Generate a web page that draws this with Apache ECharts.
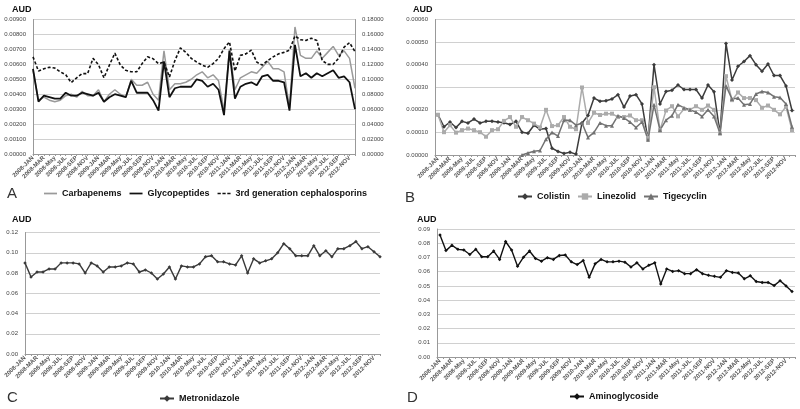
<!DOCTYPE html>
<html><head><meta charset="utf-8">
<script src="https://cdn.jsdelivr.net/npm/echarts@6/dist/echarts.min.js"></script>
<style>html,body{margin:0;padding:0;background:#fff}#c{width:800px;height:409px}</style>
</head><body><div id="c"></div>
<script>
// ---- data ----
const years = [2008, 2009, 2010, 2011, 2012];
const months = ['JAN','FEB','MAR','APR','May','JUN','JUL','AUG','SEP','OCT','NOV','DEC'];
const categories = [];
years.forEach(y => months.forEach(m => categories.push(y + '-' + m)));

const carbapenems = [0.0056,0.0036,0.0038,0.0036,0.0035,0.0036,0.0039,0.0040,0.0038,0.0042,
  0.0039,0.0039,0.0043,0.0035,0.0040,0.0043,0.0040,0.0038,0.0050,0.0046,
  0.0046,0.0048,0.0040,0.0036,0.0069,0.0043,0.0047,0.0047,0.0048,0.0050,
  0.0053,0.0055,0.0051,0.0053,0.0049,0.0029,0.0070,0.0043,0.0051,0.0053,
  0.0055,0.0054,0.0058,0.0062,0.0057,0.0057,0.0055,0.0031,0.0085,0.0066,
  0.0064,0.0064,0.0069,0.0064,0.0068,0.0072,0.0066,0.0069,0.0064,0.0044];
const glycopeptides = [0.0057,0.0035,0.0039,0.0038,0.0037,0.0037,0.0041,0.0039,0.0039,0.0041,
  0.0040,0.0039,0.0041,0.0035,0.0038,0.0040,0.0039,0.0038,0.0049,0.0041,
  0.0041,0.0041,0.0036,0.0029,0.0062,0.0038,0.0044,0.0045,0.0045,0.0045,
  0.0050,0.0049,0.0045,0.0047,0.0043,0.0026,0.0069,0.0037,0.0045,0.0047,
  0.0048,0.0046,0.0052,0.0053,0.0049,0.0049,0.0048,0.0029,0.0073,0.0052,
  0.0054,0.0051,0.0054,0.0052,0.0054,0.0056,0.0051,0.0052,0.0048,0.0030];
const cephalosporins3 = [0.130,0.111,0.114,0.116,0.115,0.110,0.106,0.0955,0.102,0.1075,
  0.1075,0.128,0.1195,0.102,0.119,0.135,0.119,0.112,0.110,0.110,
  0.121,0.130,0.1275,0.121,0.123,0.103,0.125,0.142,0.136,0.128,
  0.123,0.119,0.116,0.121,0.128,0.141,0.150,0.111,0.132,0.134,
  0.139,0.123,0.119,0.125,0.130,0.134,0.136,0.139,0.158,0.153,
  0.152,0.155,0.152,0.125,0.120,0.120,0.128,0.143,0.149,0.137];

const colistin = [0.000178,0.000125,0.000146,0.000122,0.000149,0.000142,0.000159,0.000142,0.000149,0.000149,
  0.000146,0.000143,0.000135,0.000149,0.000101,0.000096,0.000132,0.000114,0.000117,0.00003,
  0.000016,0.000007,0.000012,0.000004,0.000142,0.000175,0.000252,0.000238,0.00024,0.000248,
  0.000267,0.000212,0.000261,0.000267,0.000226,0.000067,0.0004,0.000226,0.000281,0.000287,
  0.00031,0.00029,0.00029,0.00029,0.000252,0.00031,0.00028,0.000096,0.000494,0.000332,
  0.000393,0.000414,0.00044,0.0004,0.000371,0.000403,0.000352,0.000352,0.000306,0.000197];
const linezolid = [0.000178,0.000101,0.000132,0.000099,0.00011,0.000117,0.00011,0.000101,0.000081,0.00011,
  0.000114,0.000151,0.000168,0.000125,0.000168,0.000154,0.000139,0.000122,0.0002,0.000128,
  0.000132,0.000168,0.000125,0.000114,0.000299,0.000142,0.000187,0.000177,0.000183,0.000183,
  0.000168,0.000168,0.000175,0.000154,0.000154,0.000075,0.0003,0.00011,0.000197,0.000216,
  0.000171,0.000204,0.0002,0.000216,0.0002,0.000219,0.0002,0.000096,0.000349,0.000243,
  0.000277,0.000252,0.000252,0.000243,0.000209,0.000219,0.0002,0.00018,0.000214,0.00011];
const tigecyclin = [null,null,null,null,null,null,null,null,null,null,
  null,null,null,null,0,0.000009,0.000017,0.00002,0.00007,0.0001,
  0.000084,0.000154,0.000154,0.000132,0.000142,0.000078,0.0001,0.000142,0.00013,0.00013,
  0.000174,0.000164,0.000146,0.000122,0.000146,0.000067,0.000222,0.00011,0.000154,0.000174,
  0.000223,0.000209,0.0002,0.00019,0.000171,0.0002,0.000171,0.000096,0.000306,0.000248,
  0.000252,0.000222,0.000226,0.00027,0.000281,0.000277,0.000258,0.000255,0.000226,0.000125];

const metronidazole = [0.090,0.076,0.081,0.081,0.084,0.084,0.090,0.090,0.090,0.089,
  0.080,0.090,0.087,0.081,0.086,0.086,0.087,0.090,0.089,0.081,
  0.083,0.080,0.074,0.079,0.086,0.074,0.087,0.086,0.086,0.089,
  0.096,0.097,0.091,0.091,0.089,0.088,0.097,0.080,0.094,0.090,
  0.092,0.094,0.100,0.109,0.104,0.097,0.097,0.097,0.107,0.097,
  0.102,0.096,0.104,0.104,0.107,0.111,0.104,0.106,0.101,0.096];
const aminoglycoside = [0.0857,0.0748,0.0786,0.0757,0.0752,0.0721,0.0757,0.0705,0.0705,0.0745,
  0.0686,0.0812,0.0752,0.0638,0.0702,0.0745,0.0693,0.0674,0.0698,0.0686,
  0.0714,0.0717,0.0669,0.0650,0.0678,0.0560,0.0655,0.0686,0.0669,0.0669,
  0.0674,0.0667,0.0633,0.0662,0.0619,0.0645,0.0662,0.0514,0.0619,0.0602,
  0.0607,0.0586,0.0586,0.0614,0.0586,0.0574,0.0567,0.0560,0.0607,0.0595,
  0.0590,0.0550,0.0571,0.0531,0.0524,0.0524,0.0502,0.0536,0.0500,0.0460];

const panelLetters = ['A','B','C','D'];
const yUnit = 'AUD';

// ---- chart ----
const FONT = '"Liberation Sans", Arial, sans-serif';
const chart = echarts.init(document.getElementById('c'), null, {renderer:'canvas', width:800, height:409});

function xAx(gi, bg) {
  return {
    type:'category', gridIndex:gi, data:categories, boundaryGap:bg,
    axisLine:{lineStyle:{color:'#999', width:1}},
    axisTick:{show:true, interval:0, length:2, lineStyle:{color:'#999'}},
    axisLabel:{interval:1, rotate:45, fontSize:6, color:'#555', fontFamily:FONT, fontWeight:'bold', margin:3},
    splitLine:{show:false}
  };
}
function yAx(gi, max, interval, dec, pos, split) {
  return {
    type:'value', gridIndex:gi, min:0, max:max, interval:interval, position:pos||'left',
    axisLine:{show:true, lineStyle:{color:'#999'}},
    axisTick:{show:false},
    axisLabel:{fontSize:6, color:'#444', fontFamily:FONT, margin:7, formatter:v => v.toFixed(dec)},
    splitLine:{show:split!==false, lineStyle:{color:'#d0d0d0', width:1}}
  };
}
const legText = {fontSize:9, fontWeight:'bold', color:'#111', fontFamily:FONT};
const solidIcon = 'path://M0,0L12,0L12,1.6L0,1.6Z';
const dashIcon = 'path://M0,0L3,0L3,1.6L0,1.6Z M4.5,0L7.5,0L7.5,1.6L4.5,1.6Z M9,0L12,0L12,1.6L9,1.6Z';

const option = {
  animation:false,
  backgroundColor:'#fff',
  title:[
    {text:yUnit, left:7, top:0, textStyle:{fontSize:9, fontWeight:'bold', color:'#111', fontFamily:FONT}},
    {text:yUnit, left:408, top:0, textStyle:{fontSize:9, fontWeight:'bold', color:'#111', fontFamily:FONT}},
    {text:yUnit, left:7, top:210, textStyle:{fontSize:9, fontWeight:'bold', color:'#111', fontFamily:FONT}},
    {text:yUnit, left:412, top:210, textStyle:{fontSize:9, fontWeight:'bold', color:'#111', fontFamily:FONT}},
    {text:panelLetters[0], left:2, top:181, textStyle:{fontSize:15, fontWeight:'normal', color:'#333', fontFamily:FONT}},
    {text:panelLetters[1], left:400, top:185, textStyle:{fontSize:15, fontWeight:'normal', color:'#333', fontFamily:FONT}},
    {text:panelLetters[2], left:2, top:385, textStyle:{fontSize:15, fontWeight:'normal', color:'#333', fontFamily:FONT}},
    {text:panelLetters[3], left:402, top:385, textStyle:{fontSize:15, fontWeight:'normal', color:'#333', fontFamily:FONT}}
  ],
  grid:[
    {left:33, top:19.5, width:322, height:134.5},
    {left:435, top:19.5, width:360, height:135.5},
    {left:25, top:232.5, width:355, height:121.5},
    {left:437, top:229, width:358, height:128}
  ],
  xAxis:[xAx(0,false), xAx(1,true), xAx(2,false), xAx(3,true)],
  yAxis:[
    yAx(0, 0.009, 0.001, 5),
    yAx(0, 0.18, 0.02, 5, 'right', false),
    yAx(1, 0.0006, 0.0001, 5),
    yAx(2, 0.12, 0.02, 2),
    yAx(3, 0.09, 0.01, 2)
  ],
  legend:[
    {data:[{name:'Carbapenems', icon:solidIcon}, {name:'Glycopeptides', icon:solidIcon}, {name:'3rd generation cephalosporins', icon:dashIcon}],
      left:39, top:184, itemWidth:13, itemHeight:2, itemGap:8, textStyle:legText},
    {data:['Colistin','Linezolid','Tigecyclin'], left:512, top:187, itemWidth:14, itemHeight:8, itemGap:7, textStyle:legText},
    {data:['Metronidazole'], left:154, top:389, itemWidth:14, itemHeight:8, textStyle:legText},
    {data:['Aminoglycoside'], left:564, top:387, itemWidth:14, itemHeight:8, textStyle:legText}
  ],
  series:[
    {name:'Carbapenems', type:'line', xAxisIndex:0, yAxisIndex:0, data:carbapenems, symbol:'none',
      lineStyle:{color:'#9a9a9a', width:1.5}, itemStyle:{color:'#9a9a9a'}},
    {name:'Glycopeptides', type:'line', xAxisIndex:0, yAxisIndex:0, data:glycopeptides, symbol:'none',
      lineStyle:{color:'#111', width:1.8}, itemStyle:{color:'#111'}},
    {name:'3rd generation cephalosporins', type:'line', xAxisIndex:0, yAxisIndex:1, data:cephalosporins3, symbol:'none',
      lineStyle:{color:'#111', width:1.6, type:[3,2]}, itemStyle:{color:'#111'}},
    {name:'Colistin', type:'line', xAxisIndex:1, yAxisIndex:2, data:colistin, symbol:'diamond', symbolSize:4,
      lineStyle:{color:'#3c3c3c', width:1.5}, itemStyle:{color:'#3c3c3c'}},
    {name:'Linezolid', type:'line', xAxisIndex:1, yAxisIndex:2, data:linezolid, symbol:'rect', symbolSize:4,
      lineStyle:{color:'#ababab', width:1.5}, itemStyle:{color:'#ababab'}},
    {name:'Tigecyclin', type:'line', xAxisIndex:1, yAxisIndex:2, data:tigecyclin, symbol:'triangle', symbolSize:4,
      lineStyle:{color:'#727272', width:1.5}, itemStyle:{color:'#727272'}},
    {name:'Metronidazole', type:'line', xAxisIndex:2, yAxisIndex:3, data:metronidazole, symbol:'diamond', symbolSize:3.5,
      lineStyle:{color:'#3a3a3a', width:1.4}, itemStyle:{color:'#3a3a3a'}},
    {name:'Aminoglycoside', type:'line', xAxisIndex:3, yAxisIndex:4, data:aminoglycoside, symbol:'diamond', symbolSize:3.5,
      lineStyle:{color:'#111', width:1.4}, itemStyle:{color:'#111'}}
  ]
};
chart.setOption(option);
</script></body></html>
